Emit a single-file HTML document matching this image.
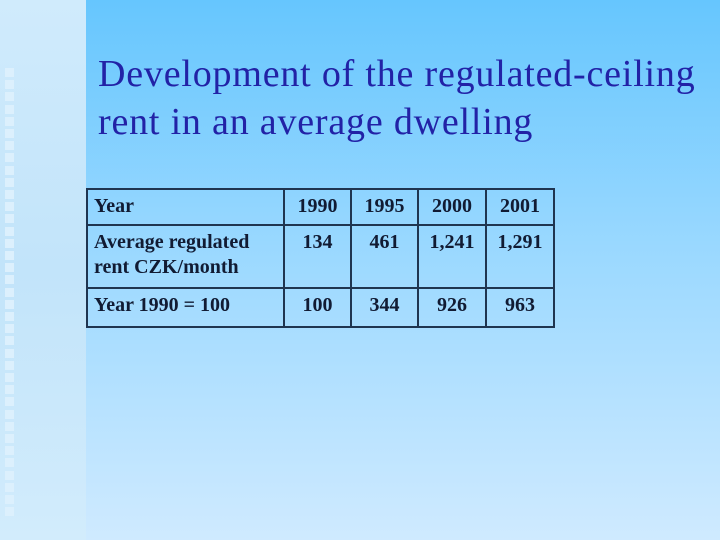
<!DOCTYPE html>
<html><head><meta charset="utf-8"><style>
body{margin:0}
#slide{position:relative;width:720px;height:540px;overflow:hidden;background:linear-gradient(#66c6fe,#99d8ff 45%,#cfeaff);font-family:"Liberation Serif",serif}
#strip{position:absolute;left:0;top:0;width:86px;height:540px;background:linear-gradient(#d0ebfc,#c2e4fa 50%,#d2ecfc)}
.sq{position:absolute;left:5px;width:9px;height:9px;background:#dcf0fd}
#title{position:absolute;left:98px;top:50px;font-size:38px;letter-spacing:0.8px;line-height:48px;color:#2222a6;white-space:nowrap}
table{position:absolute;left:86px;top:188px;width:467px;table-layout:fixed;border-collapse:collapse;font-weight:bold;font-size:20px;color:#111b33}
td{border:2px solid #1f3550;padding:0 6px;vertical-align:top;line-height:25px;white-space:nowrap;overflow:visible}
td.n{text-align:center;padding:0}
</style></head><body>
<div id="slide">
<div id="strip"></div>
<div id="title">Development of the regulated-ceiling<br>rent in an average dwelling</div>
<table>
<colgroup><col style="width:197px"><col style="width:67px"><col style="width:67px"><col style="width:68px"><col style="width:68px"></colgroup>
<tr style="height:36px"><td style="padding-top:4px">Year</td><td class="n" style="padding-top:4px">1990</td><td class="n" style="padding-top:4px">1995</td><td class="n" style="padding-top:4px">2000</td><td class="n" style="padding-top:4px">2001</td></tr>
<tr style="height:63px"><td style="padding-top:4px">Average regulated<br>rent CZK/month</td><td class="n" style="padding-top:4px">134</td><td class="n" style="padding-top:4px">461</td><td class="n" style="padding-top:4px">1,241</td><td class="n" style="padding-top:4px">1,291</td></tr>
<tr style="height:39px"><td style="padding-top:4px">Year 1990 = 100</td><td class="n" style="padding-top:4px">100</td><td class="n" style="padding-top:4px">344</td><td class="n" style="padding-top:4px">926</td><td class="n" style="padding-top:4px">963</td></tr>
</table>
</div>
<script>
var s=document.getElementById('strip');
for(var y=68;y<515;y+=12.2){var d=document.createElement('div');d.className='sq';d.style.top=y+'px';


s.appendChild(d);}
</script>
</body></html>
